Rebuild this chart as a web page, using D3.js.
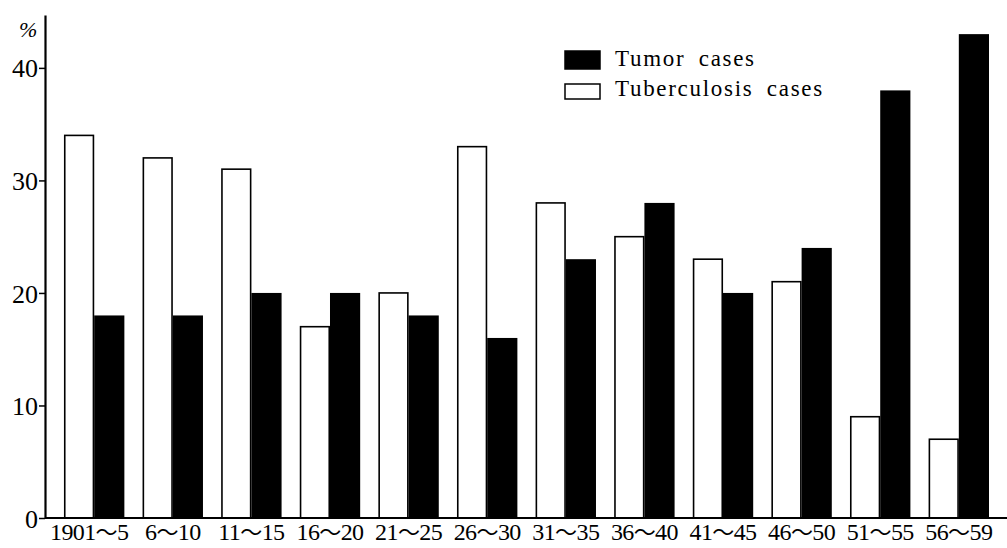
<!DOCTYPE html>
<html>
<head>
  <meta charset="UTF-8">
  <style>
    body { margin: 0; background: #fff; }
  </style>
</head>
<body>
<script src="https://d3js.org/d3.v7.min.js"></script>
<div id="my_dataviz"></div>
<script>

// data
var periods = ["1901～5", "6～10", "11～15", "16～20", "21～25", "26～30",
               "31～35", "36～40", "41～45", "46～50", "51～55", "56～59"];
var tuberculosis = [34, 32, 31, 17, 20, 33, 28, 25, 23, 21, 9, 7];
var tumor = [18, 18, 20, 20, 18, 16, 23, 28, 20, 24, 38, 43];
var yTicks = [0, 10, 20, 30, 40];

var serif = "Liberation Serif";

var margin = {top: 15, right: 0, bottom: 30, left: 45},
  width = 1007 - margin.left - margin.right,
  height = 548 - margin.top - margin.bottom;

var svg = d3.select("#my_dataviz")
.append("svg")
  .attr("width", width + margin.left + margin.right)
  .attr("height", height + margin.top + margin.bottom)
.append("g")
  .attr("transform", "translate(" + margin.left + "," + margin.top + ")");

var y = d3.scaleLinear()
  .domain([0, 44.7])
  .range([height, 0]);

var x = d3.scaleBand()
  .domain(periods)
  .range([19, 944])
  .paddingInner(0.232)
  .paddingOuter(0);

var xSub = d3.scaleBand()
  .domain(["tb", "tumor"])
  .range([0, x.bandwidth()]);

var rows = periods.map(function(p, i) {
  return {period: p, tb: tuberculosis[i], tumor: tumor[i]};
});

// bars
var group = svg.append("g")
  .selectAll("g")
  .data(rows)
  .enter()
  .append("g")
    .attr("transform", function(d) { return "translate(" + x(d.period) + ",0)"; });

group.append("rect")
  .attr("x", xSub("tb") + 0.75)
  .attr("y", function(d) { return y(d.tb); })
  .attr("width", xSub.bandwidth() - 1.5)
  .attr("height", function(d) { return height - y(d.tb); })
  .style("fill", "#fff")
  .style("stroke", "#000")
  .style("stroke-width", 1.6);

group.append("rect")
  .attr("x", xSub("tumor"))
  .attr("y", function(d) { return y(d.tumor); })
  .attr("width", xSub.bandwidth())
  .attr("height", function(d) { return height - y(d.tumor); })
  .style("fill", "#000");

// y axis
var yAxis = svg.append("g")
  .call(d3.axisLeft(y).tickValues(yTicks).tickSize(6).tickSizeOuter(0).tickPadding(1));
yAxis.attr("font-family", serif).attr("font-size", 26);
yAxis.select(".domain").attr("stroke-width", 2.2);
yAxis.selectAll(".tick line").attr("stroke-width", 1.5);
yAxis.selectAll("text").attr("dy", "0.35em");

// x axis
svg.append("line")
  .attr("x1", 0)
  .attr("x2", width)
  .attr("y1", height)
  .attr("y2", height)
  .style("stroke", "#000")
  .style("stroke-width", 2.2);

var xAxis = svg.append("g")
  .attr("transform", "translate(0," + height + ")")
  .call(d3.axisBottom(x).tickSize(0).tickPadding(5));
xAxis.attr("font-family", serif).attr("font-size", 24);
xAxis.select(".domain").remove();
// wave dash in a CJK face, like the printed label
xAxis.selectAll(".tick text").each(function(d) {
  var parts = d.split("～");
  var t = d3.select(this).text("");
  t.append("tspan").text(parts[0]);
  t.append("tspan").attr("font-family", "Noto Sans CJK JP").attr("font-size", 22).text("～");
  t.append("tspan").text(parts[1]);
});
xAxis.selectAll(".tick text").attr("letter-spacing", "-0.6px");
xAxis.select(".tick text").attr("dx", "-5");

// unit
svg.append("text")
  .attr("x", -26)
  .attr("y", 22)
  .text("%")
  .attr("font-family", serif)
  .attr("font-size", 22)
  .attr("font-style", "italic");

// legend
var legend = [
  {label: "Tumor cases", fill: "#000"},
  {label: "Tuberculosis cases", fill: "#fff"}
];
legend.forEach(function(l, i) {
  svg.append("rect")
    .attr("x", 520)
    .attr("y", 36 + i * 33)
    .attr("width", 35)
    .attr("height", i == 0 ? 18 : 15)
    .style("fill", l.fill)
    .style("stroke", "#000")
    .style("stroke-width", 1.5);
  svg.append("text")
    .attr("x", 570)
    .attr("y", 51 + i * 30)
    .text(l.label)
    .attr("font-family", serif)
    .attr("font-size", 23)
    .attr("letter-spacing", "1.7px")
    .attr("word-spacing", "6px");
});

</script>
</body>
</html>
